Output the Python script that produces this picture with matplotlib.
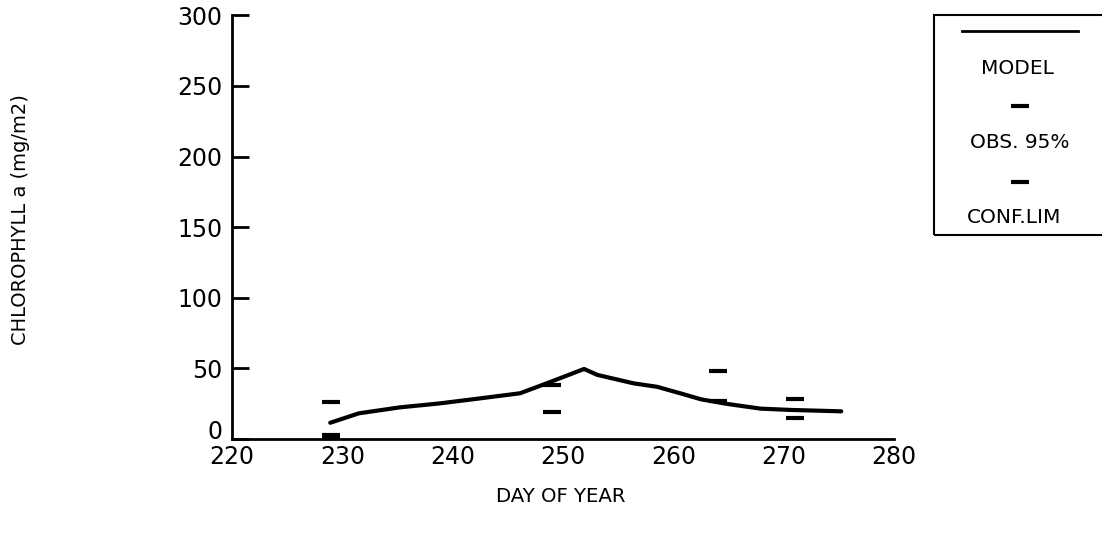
import matplotlib.pyplot as plt
from matplotlib.lines import Line2D
from matplotlib.patches import Rectangle
from matplotlib.transforms import ScaledTranslation

# model curve (day of year, chlorophyll a mg/m2)
model_day = [228.9, 231.5, 235.2, 238.8, 242.5, 246.1, 248.5, 251.9, 253.1,
             256.4, 258.5, 260.6, 262.5, 264.9, 267.9, 270.6, 275.2]
model_chl = [11.5, 18.2, 22.4, 25.2, 28.8, 32.4, 39.4, 49.6, 45.4,
             39.4, 37.0, 32.4, 28.1, 24.8, 21.5, 20.6, 19.6]

# observed 95% confidence limits (upper / lower)
obs_day = [229, 229, 229, 249, 249, 264, 264, 271, 271]
obs_chl = [26.4, 3, 1, 38.3, 19.3, 48.4, 27.2, 28.3, 15.1]

x_ticks = [220, 230, 240, 250, 260, 270, 280]
y_ticks = [0, 50, 100, 150, 200, 250, 300]

plt.rcParams['font.family'] = ['DejaVu Sans']

fig = plt.figure(figsize=(11.02, 5.39), dpi=100)
ax = fig.add_axes([0.2105, 0.1855, 0.601, 0.786])

ax.plot(model_day, model_chl, '-', color='black', lw=3, solid_capstyle='round')
ax.plot(obs_day, obs_chl, '_', color='black', ms=13, mew=3, linestyle='none')

ax.set_xlim(220, 280)
ax.set_ylim(0, 300)
ax.set_xticks(x_ticks)
ax.set_yticks(y_ticks)
ax.spines['top'].set_visible(False)
ax.spines['right'].set_visible(False)
ax.spines['left'].set_linewidth(2)
ax.spines['bottom'].set_linewidth(2)
ax.tick_params(axis='y', direction='in', length=12.5, width=2, labelsize=17, pad=7)
ax.tick_params(axis='x', length=0, labelsize=17, pad=4)

# the "0" sits a little above the "220" in the original
zero_lab = ax.yaxis.get_major_ticks()[0].label1
zero_lab.set_transform(zero_lab.get_transform() +
                       ScaledTranslation(0, 7 / 72, fig.dpi_scale_trans))

fig.text(0.019, 0.592, 'CHLOROPHYLL a (mg/m2)', rotation=90, ha='center',
         va='center', fontsize=14)
fig.text(0.509, 0.078, 'DAY OF YEAR', ha='center', va='center', fontsize=14.2)

# legend box (its right edge runs off the page as in the original)
fig.patches.append(Rectangle((0.848, 0.564), 0.16, 0.408, transform=fig.transFigure,
                             fill=False, edgecolor='black', lw=1.5))
fig.lines.append(Line2D([0.873, 0.978], [0.9425, 0.9425], transform=fig.transFigure,
                        color='black', lw=2))
fig.text(0.923, 0.872, 'MODEL', ha='center', va='center', fontsize=14.5)
fig.lines.append(Line2D([0.926], [0.803], transform=fig.transFigure, marker='_',
                        ms=13, mew=3, color='black'))
fig.text(0.925, 0.735, 'OBS. 95%', ha='center', va='center', fontsize=14.5)
fig.lines.append(Line2D([0.926], [0.662], transform=fig.transFigure, marker='_',
                        ms=13, mew=3, color='black'))
fig.text(0.920, 0.596, 'CONF.LIM', ha='center', va='center', fontsize=14.5)

fig.savefig('out.png', dpi=100)
